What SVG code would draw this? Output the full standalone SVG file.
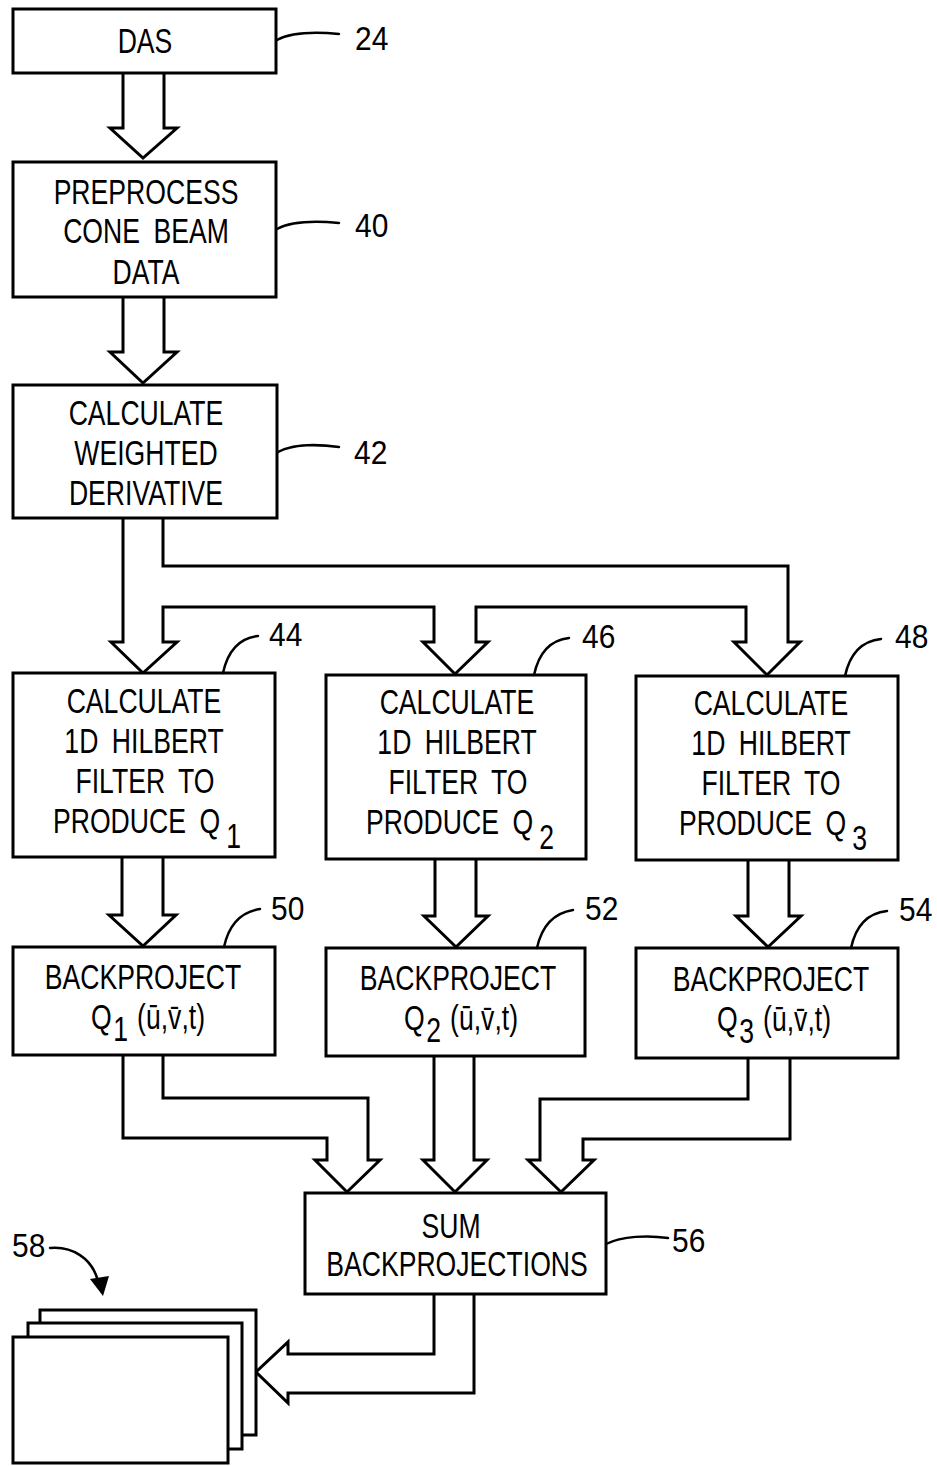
<svg xmlns="http://www.w3.org/2000/svg" width="937" height="1466" viewBox="0 0 937 1466">
<style>
.box{fill:#fff;stroke:#000;stroke-width:3}
.conn{fill:none;stroke:#000;stroke-width:3;stroke-linejoin:miter}
.lead{fill:none;stroke:#000;stroke-width:2.5;stroke-linecap:round}
.t{font-family:"Liberation Sans",Arial,sans-serif;font-size:35px;text-anchor:middle;word-spacing:8px;fill:#000}
.n{font-family:"Liberation Sans",Arial,sans-serif;font-size:34px;fill:#000}
</style>
<rect width="937" height="1466" fill="#fff"/>

<g id="connectors">
<path class="conn" d="M123,73 V128 H110 L143,158 L177,128 H164 V73"/>
<path class="conn" d="M123,297 V352 H110 L143,383 L177,352 H164 V297"/>
<path class="conn" d="M123,518 V642 H111 L143,673 L177,642 H163 V607 H434 V642 H423 L455,674 L488,642 H476 V607 H746 V642 H734 L767,675 L800,642 H788 V566 H163 V518"/>
<path class="conn" d="M122,857 V915 H109 L143,946 L176,915 H163 V857"/>
<path class="conn" d="M435,859 V916 H424 L456,947 L488,916 H476 V859"/>
<path class="conn" d="M748,860 V916 H736 L768,947 L801,916 H789 V860"/>
<path class="conn" d="M123,1055 V1138 H327 V1160 H315 L347,1192 L380,1160 H368 V1098 H163 V1055"/>
<path class="conn" d="M434,1056 V1160 H423 L455,1192 L487,1160 H474 V1056"/>
<path class="conn" d="M790,1058 V1139 H583 V1160 H594 L561,1192 L528,1160 H540 V1099 H748 V1058"/>
<path class="conn" d="M434,1294 V1354 H288 V1342 L256,1372 L288,1403 V1393 H474 V1294"/>
</g>

<g id="node-das">
<rect class="box" x="13" y="9" width="263" height="64"/>
<text class="t" transform="translate(145,53) scale(0.76,1)">DAS</text>
</g>
<g id="node-preprocess">
<rect class="box" x="13" y="162" width="263" height="135"/>
<text class="t" transform="translate(146,204) scale(0.76,1)">PREPROCESS</text>
<text class="t" transform="translate(146,243) scale(0.76,1)">CONE BEAM</text>
<text class="t" transform="translate(146,284) scale(0.76,1)">DATA</text>
</g>
<g id="node-derivative">
<rect class="box" x="13" y="385" width="264" height="133"/>
<text class="t" transform="translate(146,425) scale(0.76,1)">CALCULATE</text>
<text class="t" transform="translate(146,465) scale(0.76,1)">WEIGHTED</text>
<text class="t" transform="translate(146,505) scale(0.76,1)">DERIVATIVE</text>
</g>

<g id="node-hilbert1">
<rect class="box" x="13" y="673" width="262" height="184"/>
<text class="t" transform="translate(144,713) scale(0.76,1)">CALCULATE</text>
<text class="t" transform="translate(144,753) scale(0.76,1)">1D HILBERT</text>
<text class="t" transform="translate(145,793) scale(0.76,1)">FILTER TO</text>
<text class="t" transform="translate(147,833) scale(0.76,1)">PRODUCE Q<tspan dx="8" dy="15">1</tspan></text>
</g>
<g id="node-hilbert2">
<rect class="box" x="326" y="675" width="260" height="184"/>
<text class="t" transform="translate(457,714) scale(0.76,1)">CALCULATE</text>
<text class="t" transform="translate(457,754) scale(0.76,1)">1D HILBERT</text>
<text class="t" transform="translate(458,794) scale(0.76,1)">FILTER TO</text>
<text class="t" transform="translate(460,834) scale(0.76,1)">PRODUCE Q<tspan dx="8" dy="15">2</tspan></text>
</g>
<g id="node-hilbert3">
<rect class="box" x="636" y="676" width="262" height="184"/>
<text class="t" transform="translate(771,715) scale(0.76,1)">CALCULATE</text>
<text class="t" transform="translate(771,755) scale(0.76,1)">1D HILBERT</text>
<text class="t" transform="translate(771,795) scale(0.76,1)">FILTER TO</text>
<text class="t" transform="translate(773,835) scale(0.76,1)">PRODUCE Q<tspan dx="8" dy="15">3</tspan></text>
</g>

<g id="node-backproject1">
<rect class="box" x="13" y="947" width="262" height="108"/>
<text class="t" transform="translate(143,989) scale(0.76,1)">BACKPROJECT</text>
<text class="t" transform="translate(148,1029) scale(0.76,1)">Q<tspan dx="2" dy="12">1</tspan><tspan dx="12" dy="-12">(ū,v̄,t)</tspan></text>
</g>
<g id="node-backproject2">
<rect class="box" x="326" y="948" width="259" height="108"/>
<text class="t" transform="translate(458,990) scale(0.76,1)">BACKPROJECT</text>
<text class="t" transform="translate(461,1030) scale(0.76,1)">Q<tspan dx="2" dy="12">2</tspan><tspan dx="12" dy="-12">(ū,v̄,t)</tspan></text>
</g>
<g id="node-backproject3">
<rect class="box" x="636" y="948" width="262" height="110"/>
<text class="t" transform="translate(771,991) scale(0.76,1)">BACKPROJECT</text>
<text class="t" transform="translate(774,1031) scale(0.76,1)">Q<tspan dx="2" dy="12">3</tspan><tspan dx="12" dy="-12">(ū,v̄,t)</tspan></text>
</g>

<g id="node-sum">
<rect class="box" x="305" y="1193" width="301" height="101"/>
<text class="t" transform="translate(451,1238) scale(0.76,1)">SUM</text>
<text class="t" transform="translate(457,1276) scale(0.76,1)">BACKPROJECTIONS</text>
</g>

<g id="node-images">
<rect class="box" x="40" y="1310" width="216" height="125"/>
<rect class="box" x="28" y="1323" width="214" height="126"/>
<rect class="box" x="13" y="1337" width="215" height="126"/>
</g>

<g id="labels">
<path class="lead" d="M277,40 C292,32 318,32 339,34"/>
<text class="n" transform="translate(355,50) scale(0.88,1)">24</text>
<path class="lead" d="M277,229 C292,221 318,221 339,223"/>
<text class="n" transform="translate(355,237) scale(0.88,1)">40</text>
<path class="lead" d="M278,452 C293,444 318,444 339,447"/>
<text class="n" transform="translate(354,464) scale(0.88,1)">42</text>
<path class="lead" d="M223,673 C228,650 240,638 258,636"/>
<text class="n" transform="translate(269,646) scale(0.88,1)">44</text>
<path class="lead" d="M534,675 C539,652 551,640 569,638"/>
<text class="n" transform="translate(582,648) scale(0.88,1)">46</text>
<path class="lead" d="M845,676 C850,653 862,641 881,639"/>
<text class="n" transform="translate(895,648) scale(0.88,1)">48</text>
<path class="lead" d="M224,947 C229,924 241,912 260,909"/>
<text class="n" transform="translate(271,920) scale(0.88,1)">50</text>
<path class="lead" d="M537,948 C542,925 554,913 573,910"/>
<text class="n" transform="translate(585,920) scale(0.88,1)">52</text>
<path class="lead" d="M851,948 C856,925 868,913 887,911"/>
<text class="n" transform="translate(899,921) scale(0.88,1)">54</text>
<path class="lead" d="M606,1244 C622,1236 648,1235 668,1238"/>
<text class="n" transform="translate(672,1252) scale(0.88,1)">56</text>
<path class="lead" d="M50,1248 C72,1246 92,1258 98,1281"/>
<path d="M90,1279 L109,1276 L103,1296 Z" fill="#000"/>
<text class="n" transform="translate(12,1257) scale(0.88,1)">58</text>
</g>
</svg>
